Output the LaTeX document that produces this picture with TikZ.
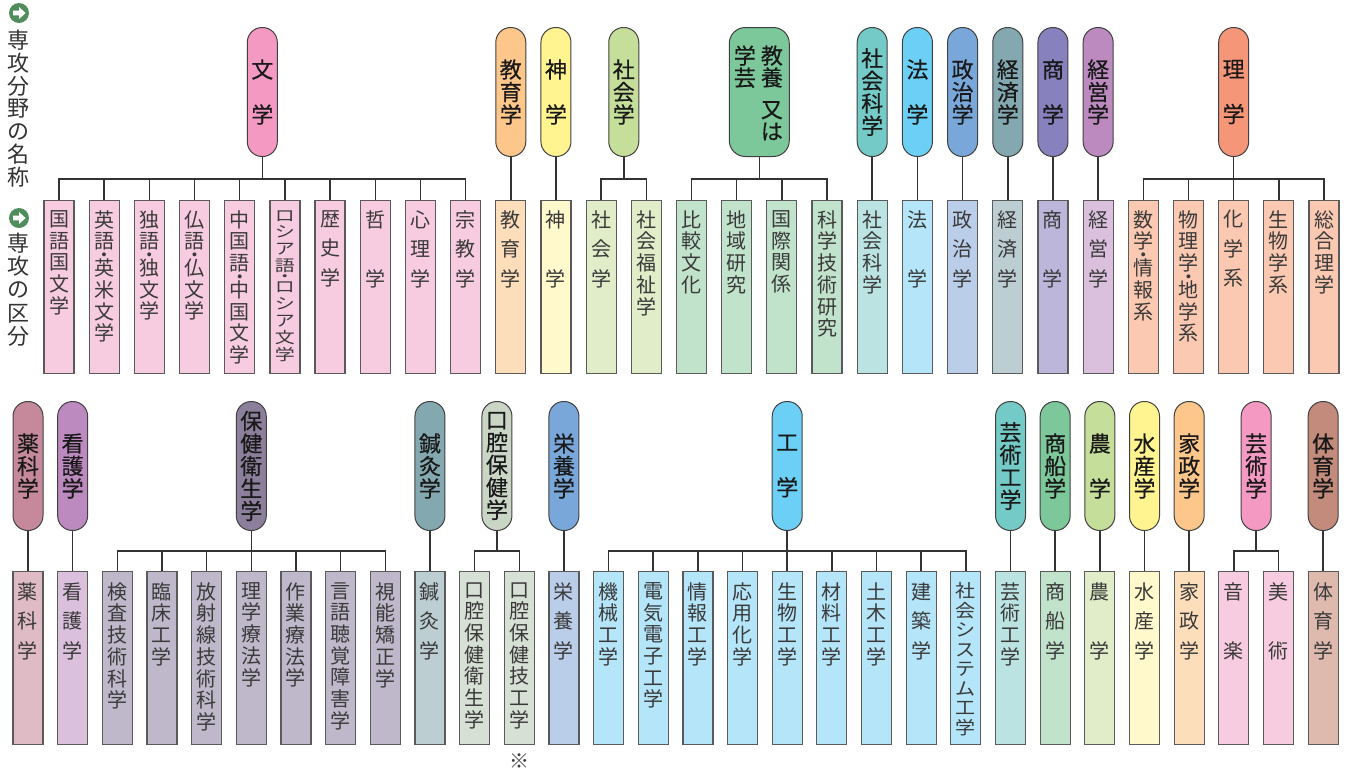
\documentclass[tikz,border=0pt]{standalone}
\usepackage{fontspec}
\usepackage{graphicx}
\newfontfamily\jp{Noto Sans CJK JP}
\newfontfamily\jpb{Noto Sans CJK JP}[FakeBold=0.4]
% colours: P = field pill, K = division box
\definecolor{pinkP}{HTML}{F49AC2}\definecolor{pinkK}{HTML}{F8CCE0}
\definecolor{orangeP}{HTML}{FDC68A}\definecolor{orangeK}{HTML}{FDDEBA}
\definecolor{yellowP}{HTML}{FFF48F}\definecolor{yellowK}{HTML}{FFF9CC}
\definecolor{lgreenP}{HTML}{C5DF9B}\definecolor{lgreenK}{HTML}{E1EDC9}
\definecolor{greenP}{HTML}{7CC89A}\definecolor{greenK}{HTML}{C1E3CC}
\definecolor{tealP}{HTML}{73CAC6}\definecolor{tealK}{HTML}{BBE3E1}
\definecolor{skyP}{HTML}{6CCFF6}\definecolor{skyK}{HTML}{B5E5F9}
\definecolor{blueP}{HTML}{7AA7DA}\definecolor{blueK}{HTML}{BACEEA}
\definecolor{slateP}{HTML}{84A8B0}\definecolor{slateK}{HTML}{BDCED3}
\definecolor{purpleP}{HTML}{8781BD}\definecolor{purpleK}{HTML}{BBB6DA}
\definecolor{mauveP}{HTML}{BC8ABF}\definecolor{mauveK}{HTML}{DBC0DE}
\definecolor{salmonP}{HTML}{F69679}\definecolor{salmonK}{HTML}{FBC8B1}
\definecolor{roseP}{HTML}{C6899C}\definecolor{roseK}{HTML}{DEBBC5}
\definecolor{hokenP}{HTML}{8C7F9C}\definecolor{hokenK}{HTML}{BFB8CA}
\definecolor{kokuP}{HTML}{C9D5C5}\definecolor{kokuK}{HTML}{D7E0D4}
\definecolor{brownP}{HTML}{C28B7B}\definecolor{brownK}{HTML}{DEBAAE}
\definecolor{pillline}{HTML}{404040}
\definecolor{boxline}{HTML}{5A5A5A}
\definecolor{connline}{HTML}{333333}
\definecolor{kidtxt}{HTML}{3A3A3A}
\definecolor{lbltxt}{HTML}{333333}
\definecolor{icongreen}{HTML}{4F8D5D}
\tikzset{
  pill/.style={draw=pillline, line width=0.5pt, rounded corners=7.4pt,
    minimum width=15pt, minimum height=64.5pt, inner sep=0pt, anchor=north,
    align=center, text=black!90, font=\jpb\fontsize{11}{11.25}\selectfont},
  kid/.style={draw=boxline, line width=0.6pt, minimum width=15pt,
    minimum height=86.5pt, inner sep=0pt, anchor=north},
  kt/.style={inner sep=0pt, align=center, anchor=north, text=kidtxt,
    font=\jp\fontsize{10}{10.85}\selectfont},
  ks/.style={kt, font=\jp\fontsize{10}{14.75}\selectfont},
  ptx/.style={inner sep=0pt, align=center, anchor=north, text=black!90,
    font=\jpb\fontsize{11}{11}\selectfont},
  lbl/.style={inner sep=0pt, align=center, text=lbltxt,
    font=\jp\fontsize{11}{11.4}\selectfont},
  conn/.style={draw=connline, line width=0.75pt},
}
% small middle dot between two stacked characters
\newcommand\md{\\[-7.1pt]{\fontsize{2.2}{2.2}\selectfont ●}\\[-1.25pt]}
\newcommand\PT[4]{\node[pill,fill=#3] (#1) at ({59+45.18*#2},27) {#4};}
\newcommand\PB[4]{\node[pill,fill=#3] (#1) at ({28+44.66*#2},401) {#4};}
\newcommand\KT[5]{\node[kid,fill=#3] (#1) at ({59+45.18*#2},200) {};
  \node[#4] (#1t) at ([yshift=-5pt]#1.north) {#5};}
\newcommand\KB[5]{\node[kid,fill=#3] (#1) at ({28+44.66*#2},571) {};
  \node[#4] (#1t) at ([yshift=-5.5pt]#1.north) {#5};}
\newcommand\TR[3]{\foreach \kk in {#3}{\draw[conn] (#1.south) -- ++(0,#2) -| (\kk.north);}}
\begin{document}
\begin{tikzpicture}[x=0.5pt,y=-0.5pt]
\useasboundingbox (0,0) rectangle (1350,772);
% ---- left labels
\node[circle, fill=icongreen, minimum size=10pt, inner sep=0pt] (i1) at (19,13) {};
\fill[white] ([xshift=-3pt,yshift=-1.2pt]i1.center) -- ++(3pt,0) -- ++(0,-1.8pt) -- ++(3.3pt,3pt) -- ++(-3.3pt,3pt) -- ++(0,-1.8pt) -- ++(-3pt,0) -- cycle;
\node[lbl] (l1) at (19,108.5) {専\\攻\\分\\野\\の\\名\\称};
\node[circle, fill=icongreen, minimum size=10pt, inner sep=0pt] (i2) at (19,218) {};
\fill[white] ([xshift=-3pt,yshift=-1.2pt]i2.center) -- ++(3pt,0) -- ++(0,-1.8pt) -- ++(3.3pt,3pt) -- ++(-3.3pt,3pt) -- ++(0,-1.8pt) -- ++(-3pt,0) -- cycle;
\node[lbl, font=\jp\fontsize{11}{11.65}\selectfont] (l2) at (19,289.5) {専\\攻\\の\\区\\分};
% ---- top row: fields
\PT{pBun}{4.5}{pinkP}{文\\[11.25pt]学}
\PT{pKyo}{10}{orangeP}{教\\育\\学}
\PT{pShin}{11}{yellowP}{神\\[11.25pt]学}
\PT{pSha}{12.5}{lgreenP}{社\\会\\学}
\node[pill, fill=greenP, minimum width=30pt, rounded corners=8pt] (pKyoyo) at ({59+45.18*15.5},27) {};
\node[ptx] (pKyoyoR) at ([xshift=6.3pt,yshift=-9pt]pKyoyo.north) {教\\養\\[4.8pt]又\\は};
\node[ptx] (pKyoyoL) at ([xshift=-7.2pt,yshift=-9pt]pKyoyo.north) {学\\芸};
\PT{pSkg}{18}{tealP}{社\\会\\科\\学}
\PT{pHou}{19}{skyP}{法\\[11.25pt]学}
\PT{pSei}{20}{blueP}{政\\治\\学}
\PT{pKei}{21}{slateP}{経\\済\\学}
\PT{pSho}{22}{purpleP}{商\\[11.25pt]学}
\PT{pKeiei}{23}{mauveP}{経\\営\\学}
\PT{pRi}{26}{salmonP}{理\\[11.25pt]学}
% ---- top row: divisions
\KT{a0}{0}{pinkK}{kt}{国\\語\\国\\文\\学}
\KT{a1}{1}{pinkK}{kt}{英\\語\md 英\\米\\文\\学}
\KT{a2}{2}{pinkK}{kt}{独\\語\md 独\\文\\学}
\KT{a3}{3}{pinkK}{kt}{仏\\語\md 仏\\文\\学}
\KT{a4}{4}{pinkK}{kt}{中\\国\\語\md 中\\国\\文\\学}
\KT{a5}{5}{pinkK}{kt,yscale=0.78}{ロ\\シ\\ア\\語\md ロ\\シ\\ア\\文\\学}
\KT{a6}{6}{pinkK}{ks}{歴\\史\\学}
\KT{a7}{7}{pinkK}{ks}{哲\\[14.75pt]学}
\KT{a8}{8}{pinkK}{ks}{心\\理\\学}
\KT{a9}{9}{pinkK}{ks}{宗\\教\\学}
\KT{a10}{10}{orangeK}{ks}{教\\育\\学}
\KT{a11}{11}{yellowK}{ks}{神\\[14.75pt]学}
\KT{a12}{12}{lgreenK}{ks}{社\\会\\学}
\KT{a13}{13}{lgreenK}{kt}{社\\会\\福\\祉\\学}
\KT{a14}{14}{greenK}{kt}{比\\較\\文\\化}
\KT{a15}{15}{greenK}{kt}{地\\域\\研\\究}
\KT{a16}{16}{greenK}{kt}{国\\際\\関\\係}
\KT{a17}{17}{greenK}{kt}{科\\学\\技\\術\\研\\究}
\KT{a18}{18}{tealK}{kt}{社\\会\\科\\学}
\KT{a19}{19}{skyK}{ks}{法\\[14.75pt]学}
\KT{a20}{20}{blueK}{ks}{政\\治\\学}
\KT{a21}{21}{slateK}{ks}{経\\済\\学}
\KT{a22}{22}{purpleK}{ks}{商\\[14.75pt]学}
\KT{a23}{23}{mauveK}{ks}{経\\営\\学}
\KT{a24}{24}{salmonK}{kt}{数\\学\md 情\\報\\系}
\KT{a25}{25}{salmonK}{kt}{物\\理\\学\md 地\\学\\系}
\KT{a26}{26}{salmonK}{ks}{化\\学\\系}
\KT{a27}{27}{salmonK}{kt}{生\\物\\学\\系}
\KT{a28}{28}{salmonK}{kt}{総\\合\\理\\学}
% ---- top row connectors
\TR{pBun}{22}{a0,a1,a2,a3,a4,a5,a6,a7,a8,a9}
\TR{pKyo}{22}{a10}
\TR{pShin}{22}{a11}
\TR{pSha}{22}{a12,a13}
\TR{pKyoyo}{22}{a14,a15,a16,a17}
\TR{pSkg}{22}{a18}
\TR{pHou}{22}{a19}
\TR{pSei}{22}{a20}
\TR{pKei}{22}{a21}
\TR{pSho}{22}{a22}
\TR{pKeiei}{22}{a23}
\TR{pRi}{22}{a24,a25,a26,a27,a28}
% ---- bottom row: fields
\PB{qYak}{0}{roseP}{薬\\科\\学}
\PB{qKan}{1}{mauveP}{看\\護\\学}
\PB{qHok}{5}{hokenP}{保\\健\\衛\\生\\学}
\PB{qShk}{9}{slateP}{鍼\\灸\\学}
\PB{qKok}{10.5}{kokuP}{口\\腔\\保\\健\\学}
\PB{qEiy}{12}{blueP}{栄\\養\\学}
\PB{qKou}{17}{skyP}{工\\[11.25pt]学}
\PB{qGko}{22}{tealP}{芸\\術\\工\\学}
\PB{qSsn}{23}{greenP}{商\\船\\学}
\PB{qNou}{24}{lgreenP}{農\\[11.25pt]学}
\PB{qSui}{25}{yellowP}{水\\産\\学}
\PB{qKas}{26}{orangeP}{家\\政\\学}
\PB{qGei}{27.5}{pinkP}{芸\\術\\学}
\PB{qTai}{29}{brownP}{体\\育\\学}
% ---- bottom row: divisions
\KB{b0}{0}{roseK}{ks}{薬\\科\\学}
\KB{b1}{1}{mauveK}{ks}{看\\護\\学}
\KB{b2}{2}{hokenK}{kt}{検\\査\\技\\術\\科\\学}
\KB{b3}{3}{hokenK}{kt}{臨\\床\\工\\学}
\KB{b4}{4}{hokenK}{kt}{放\\射\\線\\技\\術\\科\\学}
\KB{b5}{5}{hokenK}{kt}{理\\学\\療\\法\\学}
\KB{b6}{6}{hokenK}{kt}{作\\業\\療\\法\\学}
\KB{b7}{7}{hokenK}{kt}{言\\語\\聴\\覚\\障\\害\\学}
\KB{b8}{8}{hokenK}{kt}{視\\能\\矯\\正\\学}
\KB{b9}{9}{slateK}{ks}{鍼\\灸\\学}
\KB{b10}{10}{kokuK}{kt}{口\\腔\\保\\健\\衛\\生\\学}
\KB{b11}{11}{kokuK}{kt}{口\\腔\\保\\健\\技\\工\\学}
\KB{b12}{12}{blueK}{ks}{栄\\養\\学}
\KB{b13}{13}{skyK}{kt}{機\\械\\工\\学}
\KB{b14}{14}{skyK}{kt}{電\\気\\電\\子\\工\\学}
\KB{b15}{15}{skyK}{kt}{情\\報\\工\\学}
\KB{b16}{16}{skyK}{kt}{応\\用\\化\\学}
\KB{b17}{17}{skyK}{kt}{生\\物\\工\\学}
\KB{b18}{18}{skyK}{kt}{材\\料\\工\\学}
\KB{b19}{19}{skyK}{kt}{土\\木\\工\\学}
\KB{b20}{20}{skyK}{ks}{建\\築\\学}
\KB{b21}{21}{skyK}{kt,yscale=0.9}{社\\会\\シ\\ス\\テ\\ム\\工\\学}
\KB{b22}{22}{tealK}{kt}{芸\\術\\工\\学}
\KB{b23}{23}{greenK}{ks}{商\\船\\学}
\KB{b24}{24}{lgreenK}{ks}{農\\[14.75pt]学}
\KB{b25}{25}{yellowK}{ks}{水\\産\\学}
\KB{b26}{26}{orangeK}{ks}{家\\政\\学}
\KB{b27}{27}{pinkK}{ks}{音\\[14.75pt]楽}
\KB{b28}{28}{pinkK}{ks}{美\\[14.75pt]術}
\KB{b29}{29}{brownK}{ks}{体\\育\\学}
\node[inner sep=0pt, text=kidtxt, font=\jp\fontsize{10}{10}\selectfont] (note) at ([yshift=-8pt]b11.south) {※};
% ---- bottom row connectors
\TR{qYak}{20}{b0}
\TR{qKan}{20}{b1}
\TR{qHok}{20}{b2,b3,b4,b5,b6,b7,b8}
\TR{qShk}{20}{b9}
\TR{qKok}{20}{b10,b11}
\TR{qEiy}{20}{b12}
\TR{qKou}{20}{b13,b14,b15,b16,b17,b18,b19,b20,b21}
\TR{qGko}{20}{b22}
\TR{qSsn}{20}{b23}
\TR{qNou}{20}{b24}
\TR{qSui}{20}{b25}
\TR{qKas}{20}{b26}
\TR{qGei}{20}{b27,b28}
\TR{qTai}{20}{b29}
\end{tikzpicture}
\end{document}
